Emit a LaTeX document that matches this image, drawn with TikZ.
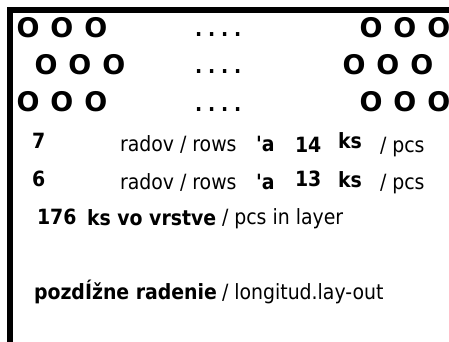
\documentclass[tikz,border=0pt]{standalone}
\usepackage{fontspec}
\setmainfont{DejaVu Sans}
\newfontfamily\cond{DejaVu Sans Condensed}
\newfontfamily\condb{DejaVu Sans Condensed Bold}
\newcommand{\ooo}{O\hspace{11pt}O\hspace{11pt}O}
\newcommand{\fourdots}{.\hspace{5.9pt}.\hspace{5.9pt}.\hspace{5.9pt}.}
\tikzset{
 lbl/.style={inner sep=0pt,outer sep=0pt,anchor=base west},
 reg/.style={lbl,font=\cond\fontsize{21}{24}\selectfont},
 bld/.style={lbl,font=\condb\fontsize{21}{24}\selectfont},
 ring/.style={lbl,font=\bfseries\fontsize{27}{30}\selectfont},
 dots/.style={lbl,font=\condb\fontsize{21}{24}\selectfont},
 bar/.style={fill=black,draw=none}
}
\begin{document}
\begin{tikzpicture}[x=1pt,y=-1pt]
\useasboundingbox (0,0) rectangle (449,342);
\clip (0,0) rectangle (449,342);
\fill[bar] (7,7) rectangle (449,13);
\fill[bar] (7,7) rectangle (13,342);
\node[ring] (a1) at (16.5,37.5) {\ooo};
\node[ring] (a2) at (34.5,74.5) {\ooo};
\node[ring] (a3) at (16.5,111.5) {\ooo};
\node[dots] (d1) at (195,37) {\fourdots};
\node[dots] (d2) at (195,74) {\fourdots};
\node[dots] (d3) at (195,111) {\fourdots};
\node[ring] (b1) at (359.5,37.5) {\ooo};
\node[ring] (b2) at (342.5,74.5) {\ooo};
\node[ring] (b3) at (359.5,111.5) {\ooo};
\node[bld] (n7) at (32,148) {7};
\node[reg] (r1) at (120,151) {radov / rows};
\node[bld] (a1q) at (256,151) {'a};
\node[bld] (n14) at (295,152) {14};
\node[bld] (k1) at (338,148) {ks};
\node[reg] (p1) at (380,152) {/ pcs};
\node[bld] (n6) at (32,186) {6};
\node[reg] (r2) at (120,189) {radov / rows};
\node[bld] (a2q) at (256,189) {'a};
\node[bld] (n13) at (295,186) {13};
\node[bld] (k2) at (338,187) {ks};
\node[reg] (p2) at (380,189) {/ pcs};
\node[bld] (n176) at (37,224) {176};
\node[bld] (ksv) at (87,225) {ks vo vrstve};
\node[reg] (pil) at (222,224) {/ pcs in layer};
\node[bld] (poz) at (34,299) {pozdÍžne radenie};
\node[reg] (lon) at (222,299) {/ longitud.lay-out};
\end{tikzpicture}
\end{document}
